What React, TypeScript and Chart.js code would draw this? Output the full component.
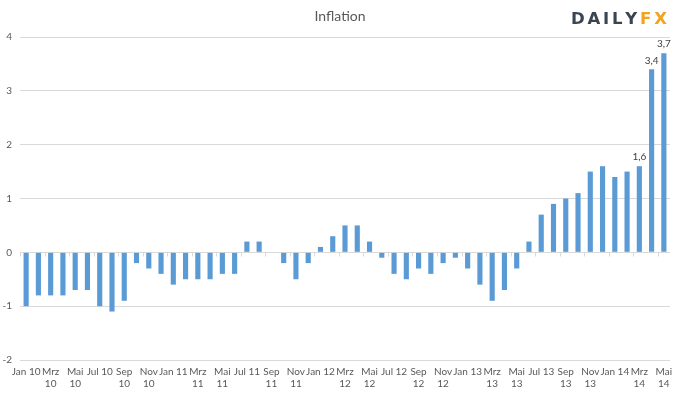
import React, { useEffect, useRef } from "react";
import { Chart, registerables } from "chart.js";

Chart.register(...registerables);

const months = [
  "Jan 10","Feb 10","Mrz 10","Apr 10","Mai 10","Jun 10","Jul 10","Aug 10","Sep 10","Okt 10","Nov 10","Dez 10",
  "Jan 11","Feb 11","Mrz 11","Apr 11","Mai 11","Jun 11","Jul 11","Aug 11","Sep 11","Okt 11","Nov 11","Dez 11",
  "Jan 12","Feb 12","Mrz 12","Apr 12","Mai 12","Jun 12","Jul 12","Aug 12","Sep 12","Okt 12","Nov 12","Dez 12",
  "Jan 13","Feb 13","Mrz 13","Apr 13","Mai 13","Jun 13","Jul 13","Aug 13","Sep 13","Okt 13","Nov 13","Dez 13",
  "Jan 14","Feb 14","Mrz 14","Apr 14","Mai 14",
];

const inflation = [
  -1.0, -0.8, -0.8, -0.8, -0.7, -0.7, -1.0, -1.1, -0.9, -0.2, -0.3, -0.4,
  -0.6, -0.5, -0.5, -0.5, -0.4, -0.4, 0.2, 0.2, 0.0, -0.2, -0.5, -0.2,
  0.1, 0.3, 0.5, 0.5, 0.2, -0.1, -0.4, -0.5, -0.3, -0.4, -0.2, -0.1,
  -0.3, -0.6, -0.9, -0.7, -0.3, 0.2, 0.7, 0.9, 1.0, 1.1, 1.5, 1.6,
  1.4, 1.5, 1.6, 3.4, 3.7,
];

const xTickLabels = [
  "Jan 10","Mrz\n10","Mai\n10","Jul 10","Sep\n10","Nov\n10",
  "Jan 11","Mrz\n11","Mai\n11","Jul 11","Sep\n11","Nov\n11",
  "Jan 12","Mrz\n12","Mai\n12","Jul 12","Sep\n12","Nov\n12",
  "Jan 13","Mrz\n13","Mai\n13","Jul 13","Sep\n13","Nov\n13",
  "Jan 14","Mrz\n14","Mai\n14",
];

const labeledMonths = ["Mrz 14", "Apr 14", "Mai 14"];

const chartTitle = "Inflation";
const FONT = "Lato, 'Open Sans', sans-serif";

export default function App() {
  const ref = useRef<HTMLCanvasElement | null>(null);

  useEffect(() => {
    document.body.style.margin = "0";
    const canvas = ref.current;
    if (!canvas) return;

    const overlay = {
      id: "overlay",
      afterDatasetsDraw(chart: any) {
        const ctx = chart.ctx;
        const x = chart.scales.x;
        const y = chart.scales.y;
        const meta = chart.getDatasetMeta(0);
        ctx.save();
        // small tick marks on the zero axis
        ctx.strokeStyle = "#d9d9d9";
        ctx.lineWidth = 1;
        const y0 = Math.round(y.getPixelForValue(0)) + 0.5;
        const step = (x.right - x.left) / months.length;
        for (let i = 0; i <= months.length; i += 2) {
          const px = Math.round(x.left + step * i) + 0.5;
          ctx.beginPath();
          ctx.moveTo(px, y0);
          ctx.lineTo(px, y0 + 4);
          ctx.stroke();
        }
        // x tick labels (every second month)
        ctx.fillStyle = "#595959";
        ctx.font = `10px ${FONT}`;
        ctx.textAlign = "center";
        ctx.textBaseline = "middle";
        xTickLabels.forEach((lab, k) => {
          const px = x.getPixelForValue(k * 2);
          lab.split("\n").forEach((line, j) => {
            ctx.fillText(line, px, chart.chartArea.bottom + 12 + j * 12);
          });
        });
        // data labels
        ctx.fillStyle = "#404040";
        ctx.textBaseline = "bottom";
        labeledMonths.forEach((m) => {
          const i = months.indexOf(m);
          const el = meta.data[i];
          ctx.fillText(String(inflation[i]).replace(".", ","), el.x, el.y - 4);
        });
        // title
        ctx.fillStyle = "#595959";
        ctx.font = `14px ${FONT}`;
        ctx.textBaseline = "middle";
        ctx.fillText(chartTitle, 340, 16);
        // logo
        ctx.font = `bold 16.5px 'DejaVu Sans', sans-serif`;
        ctx.textAlign = "left";
        ctx.textBaseline = "alphabetic";
        let lx = 571;
        const drawSpaced = (txt: string, color: string) => {
          ctx.fillStyle = color;
          for (const ch of txt) {
            ctx.fillText(ch, lx, 24.3);
            lx += ctx.measureText(ch).width + 2.8;
          }
        };
        drawSpaced("DAILY", "#3b4552");
        drawSpaced("FX", "#f5a21c");
        ctx.restore();
      },
    };

    const chart = new Chart(canvas, {
      type: "bar",
      data: {
        labels: months,
        datasets: [
          {
            data: inflation,
            backgroundColor: "#5b9bd5",
            barPercentage: 0.42,
            categoryPercentage: 1,
          },
        ],
      },
      options: {
        animation: false,
        responsive: false,
        maintainAspectRatio: false,
        layout: { padding: { top: 37, right: 10, left: 0, bottom: 0 } },
        plugins: {
          legend: { display: false },
          tooltip: { enabled: false },
          title: { display: false },
        },
        scales: {
          x: {
            grid: { display: false },
            border: { display: false },
            ticks: { display: false },
            afterFit: (s: any) => {
              s.height = 34;
            },
          },
          y: {
            min: -2,
            max: 4,
            border: { display: false },
            grid: { color: "#d9d9d9", drawTicks: false, lineWidth: 1 },
            ticks: {
              stepSize: 1,
              padding: 8,
              color: "#595959",
              font: { family: FONT, size: 10 },
            },
            afterFit: (s: any) => {
              s.width = 20;
            },
          },
        },
      },
      plugins: [overlay],
    });
    return () => chart.destroy();
  }, []);

  return (
    <div style={{ position: "absolute", left: 0, top: 0, width: 680, height: 394, background: "#fff" }}>
      <canvas ref={ref} width={680} height={394} />
    </div>
  );
}
